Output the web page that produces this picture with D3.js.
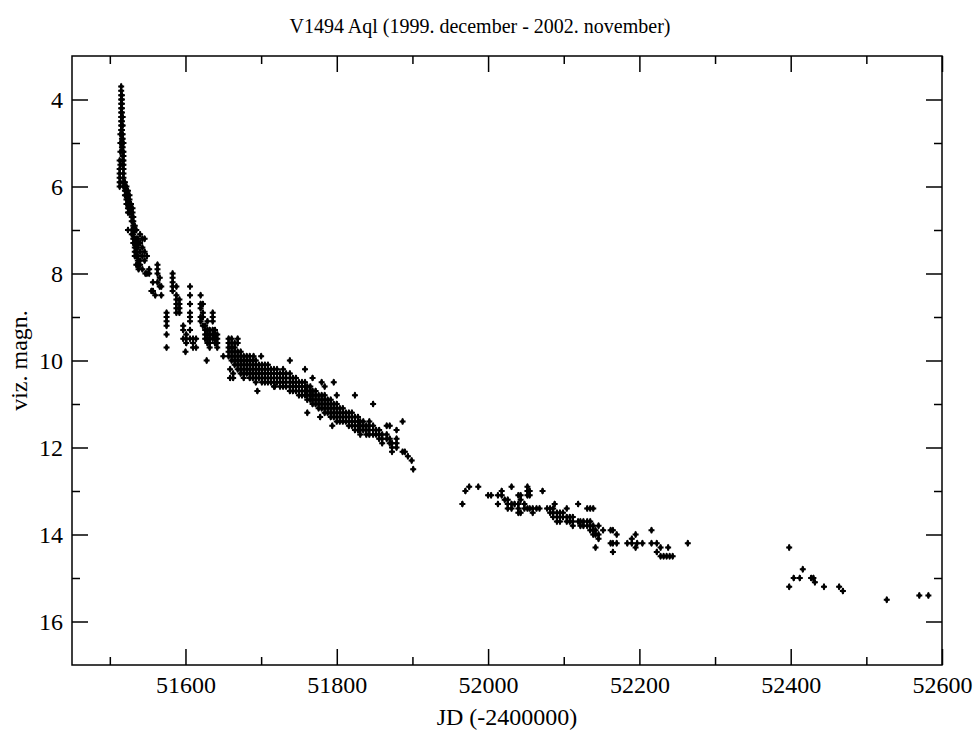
<!DOCTYPE html>
<html>
<head>
<meta charset="utf-8">
<script src="https://cdn.jsdelivr.net/npm/d3@7/dist/d3.min.js"></script>
<style>
  body { margin: 0; background: #fff; }
  text { font-family: "Liberation Serif", "Times New Roman", serif; fill: #000; }
</style>
</head>
<body>
<div id="plot"></div>
<script>
// each entry: [JD - 2400000, [visual magnitudes estimated that night]]
var peakObs = [
  [51513, [5.4, 5.6, 5.7, 5.8, 5.9, 6.0]],
  [51514, [4.8, 5.0, 5.2, 5.5, 5.9]],
  [51515, [3.7, 3.8, 3.9, 4.0, 4.1, 4.2, 4.3, 4.4, 4.5, 4.6, 4.7]],
  [51516, [3.9, 4.0, 4.1, 4.2, 4.3, 4.4, 4.5, 4.6, 4.7, 4.8, 4.9, 5.0, 5.1]],
  [51517, [4.4, 4.6, 4.8, 4.9, 5.0, 5.1, 5.2, 5.3, 5.4, 5.5]],
  [51518, [5.0, 5.2, 5.3, 5.4, 5.5, 5.6, 5.7, 5.8, 5.9, 6.0]],
  [51520, [5.9, 6.0, 6.1, 6.2]],
  [51522, [6.0, 6.1, 6.2, 6.3, 6.4]],
  [51524, [6.1, 6.2, 6.3, 6.4, 6.5, 6.6, 7.0]],
  [51526, [6.2, 6.3, 6.4, 6.5, 6.6]],
  [51528, [6.4, 6.5, 6.6]],
  [51529, [6.7, 6.8, 7.0, 7.1]],
  [51530, [6.5, 6.6]],
  [51531, [6.7, 6.8, 6.9, 7.0, 7.1, 7.2, 7.3]],
  [51533, [6.9, 7.0, 7.2, 7.3, 7.4, 7.5, 7.6]],
  [51535, [7.0, 7.2, 7.3, 7.4, 7.5, 7.6, 7.8]],
  [51537, [7.2, 7.3, 7.4, 7.6, 7.7, 7.8]],
  [51538, [7.9]],
  [51540, [7.1, 7.3, 7.5, 7.7, 7.8]],
  [51543, [7.2, 7.4, 7.6, 7.9]],
  [51546, [7.2, 7.5, 7.7]],
  [51547, [8.0]],
  [51549, [7.6, 8.0]],
  [51552, [7.9, 8.0]]
];

var declineObs = [
  [51555, [8.4]],
  [51557, [8.2, 8.4]],
  [51560, [8.5]],
  [51563, [7.8, 7.9, 8.0, 8.2]],
  [51566, [8.1, 8.3]],
  [51568, [8.3, 8.5]],
  [51575, [8.9, 9.0, 9.1, 9.2, 9.4, 9.7]],
  [51583, [8.0, 8.1, 8.2, 8.3, 8.4]],
  [51588, [8.3, 8.5, 8.6, 8.7, 8.8, 8.9]],
  [51592, [8.6, 8.7, 8.8, 8.9]],
  [51597, [9.2, 9.3, 9.5]],
  [51600, [9.8]],
  [51601, [9.4, 9.5, 9.6]],
  [51606, [8.3, 8.5, 8.7, 8.9, 9.0, 9.1, 9.3, 9.5]],
  [51610, [9.5, 9.6, 9.7]],
  [51614, [9.5, 9.7]],
  [51620, [8.5, 8.7, 8.8, 9.0, 9.1]],
  [51623, [8.7, 8.9, 9.0, 9.2]],
  [51626, [9.2, 9.3, 9.4, 9.5]],
  [51628, [10.0]],
  [51629, [9.1, 9.3, 9.4, 9.5, 9.6]],
  [51632, [9.3, 9.4, 9.5, 9.6, 9.7]],
  [51636, [8.9, 9.0, 9.1, 9.3, 9.4, 9.5]],
  [51639, [9.3, 9.4, 9.5, 9.6]],
  [51642, [9.4, 9.5, 9.6, 9.7]],
  [51650, [9.9]],
  [51657, [9.5, 9.6, 9.7, 9.8, 9.9]],
  [51659, [10.2, 10.4]],
  [51661, [9.5, 9.6, 9.7, 9.8, 9.9, 10.0]],
  [51663, [10.3, 10.4]],
  [51665, [9.6, 9.7, 9.8, 9.9, 10.0, 10.1]],
  [51669, [9.5, 9.6, 9.8, 9.9, 10.0, 10.1, 10.2]],
  [51673, [9.8, 9.9, 10.0, 10.1, 10.2, 10.3]],
  [51677, [9.9, 10.0, 10.1, 10.2, 10.3, 10.4]],
  [51681, [9.9, 10.0, 10.1, 10.2, 10.3]],
  [51685, [9.9, 10.0, 10.1, 10.2, 10.3, 10.4]],
  [51689, [10.0, 10.1, 10.2, 10.3, 10.4]],
  [51690, [9.9]],
  [51693, [10.0, 10.1, 10.2, 10.3, 10.4, 10.5]],
  [51695, [10.7]],
  [51697, [10.1, 10.2, 10.3, 10.4]],
  [51700, [9.9]],
  [51701, [10.1, 10.2, 10.3, 10.4, 10.5]],
  [51705, [10.1, 10.2, 10.3, 10.4, 10.5]],
  [51709, [10.1, 10.2, 10.3, 10.4, 10.5]],
  [51713, [10.2, 10.3, 10.4, 10.5]],
  [51717, [10.2, 10.3, 10.4, 10.5, 10.6]],
  [51718, [10.6]],
  [51721, [10.2, 10.3, 10.4, 10.5]],
  [51725, [10.3, 10.4, 10.5, 10.6]],
  [51729, [10.2, 10.3, 10.4, 10.5, 10.6]],
  [51733, [10.3, 10.4, 10.5, 10.6]],
  [51738, [10.0, 10.3, 10.4, 10.5, 10.6, 10.7]],
  [51742, [10.4, 10.5, 10.6, 10.7]],
  [51746, [10.4, 10.5, 10.6, 10.7]],
  [51750, [10.5, 10.6, 10.7, 10.8]],
  [51754, [10.5, 10.6, 10.7, 10.8]],
  [51758, [10.2, 10.5, 10.6, 10.7, 10.8]],
  [51761, [10.6, 10.7, 10.8, 10.9, 11.2]],
  [51765, [10.6, 10.7, 10.8, 10.9]],
  [51768, [10.4, 10.7, 10.8, 10.9, 11.0]],
  [51772, [10.7, 10.8, 10.9, 11.0]],
  [51776, [10.8, 10.9, 11.0, 11.1]],
  [51778, [11.3]],
  [51780, [10.5, 10.8, 10.9, 11.0, 11.1]],
  [51784, [10.6, 10.8, 10.9, 11.0, 11.1, 11.2]],
  [51788, [10.9, 11.0, 11.1, 11.2]],
  [51792, [10.9, 11.0, 11.1, 11.2, 11.3]],
  [51794, [11.5]],
  [51796, [10.5, 11.0, 11.1, 11.2, 11.3]],
  [51800, [10.8, 11.0, 11.1, 11.2, 11.3, 11.4]],
  [51804, [11.1, 11.2, 11.3, 11.4]],
  [51808, [11.1, 11.2, 11.3, 11.4]],
  [51812, [11.2, 11.3, 11.4]],
  [51816, [11.2, 11.3, 11.4, 11.5]],
  [51820, [11.2, 11.3, 11.4, 11.5]],
  [51824, [10.8, 11.3, 11.4, 11.5, 11.6]],
  [51828, [11.3, 11.4, 11.5, 11.6]],
  [51831, [11.4, 11.5, 11.6, 11.7]],
  [51835, [11.4, 11.5, 11.6]],
  [51839, [11.5, 11.6, 11.7]],
  [51843, [11.4, 11.5, 11.6, 11.7]],
  [51848, [11.0, 11.5, 11.6, 11.7]],
  [51852, [11.6, 11.7]],
  [51856, [11.6, 11.7, 11.8]],
  [51860, [11.7, 11.8, 11.9]],
  [51866, [11.5, 11.7, 11.8]],
  [51870, [11.5, 11.8, 11.9]],
  [51873, [11.9, 12.0, 12.1]],
  [51879, [11.6, 11.8, 11.9, 12.0]],
  [51887, [11.4, 12.1]],
  [51890, [12.1]],
  [51894, [12.2]],
  [51899, [12.3]],
  [51901, [12.5]]
];

var season2Obs = [
  [51966, [13.3]],
  [51970, [13.0]],
  [51975, [12.9]],
  [51987, [12.9]],
  [52000, [13.1]],
  [52004, [13.1]],
  [52013, [13.1, 13.3]],
  [52018, [13.0, 13.1]],
  [52022, [13.2]],
  [52026, [13.2, 13.3, 13.4]],
  [52031, [12.9, 13.3, 13.4]],
  [52035, [13.3]],
  [52040, [13.1, 13.3, 13.4, 13.5]],
  [52043, [13.1, 13.2, 13.5]],
  [52048, [13.3, 13.4]],
  [52052, [12.9, 13.0, 13.1, 13.4]],
  [52055, [13.0, 13.1, 13.4]],
  [52059, [13.4, 13.5]],
  [52064, [13.4]],
  [52068, [13.4]],
  [52072, [13.0]],
  [52078, [13.4]],
  [52082, [13.4, 13.5]],
  [52086, [13.4, 13.5, 13.6]],
  [52088, [13.3]],
  [52091, [13.5, 13.6, 13.7]],
  [52095, [13.5, 13.6, 13.7]],
  [52099, [13.5, 13.6]],
  [52104, [13.4, 13.6, 13.7]],
  [52108, [13.6, 13.7]],
  [52112, [13.6, 13.7, 13.8]],
  [52119, [13.3, 13.7]],
  [52122, [13.7, 13.8]],
  [52126, [13.7, 13.8]],
  [52131, [13.4, 13.7, 13.8]],
  [52135, [13.4, 13.7, 13.8, 13.9]],
  [52139, [13.4, 13.8, 13.9, 14.0]],
  [52142, [13.9, 14.0, 14.3]],
  [52146, [13.8, 14.0, 14.1]],
  [52152, [13.9]],
  [52162, [13.9, 14.2]],
  [52165, [13.9, 14.2, 14.4]],
  [52170, [14.0, 14.2]],
  [52184, [14.2]],
  [52190, [14.1, 14.2]],
  [52195, [14.0, 14.3]],
  [52197, [14.2]],
  [52204, [14.2]],
  [52216, [13.9, 14.2]],
  [52223, [14.2, 14.4]],
  [52228, [14.3, 14.5]],
  [52232, [14.5]],
  [52236, [14.5]],
  [52238, [14.3]],
  [52240, [14.5]],
  [52244, [14.5]],
  [52264, [14.2]]
];

var season3Obs = [
  [52398, [14.3, 15.2]],
  [52404, [15.0]],
  [52412, [15.0]],
  [52416, [14.8]],
  [52427, [15.0]],
  [52430, [15.0]],
  [52432, [15.1]],
  [52444, [15.2]],
  [52464, [15.2]],
  [52469, [15.3]],
  [52527, [15.5]],
  [52570, [15.4]],
  [52582, [15.4]]
];

var xTicks = [51600, 51800, 52000, 52200, 52400, 52600];
var xMinorTicks = [51500, 51700, 51900, 52100, 52300, 52500];
var yTicks = [4, 6, 8, 10, 12, 14, 16];
var yMinorTicks = [5, 7, 9, 11, 13, 15];

var margin = {top: 56, right: 38, bottom: 67, left: 72},
    width = 980 - margin.left - margin.right,
    height = 732 - margin.top - margin.bottom;

var svg = d3.select("#plot")
  .append("svg")
    .attr("width", 980)
    .attr("height", 732)
  .append("g")
    .attr("transform", "translate(" + margin.left + "," + margin.top + ")");

var x = d3.scaleLinear()
  .domain([51450, 52600])
  .range([0, width]);

// magnitudes grow downwards
var y = d3.scaleLinear()
  .domain([3, 17])
  .range([0, height]);

// flatten nightly estimates into points
var points = [];
[peakObs, declineObs, season2Obs, season3Obs].forEach(function(group) {
  group.forEach(function(night) {
    night[1].forEach(function(m) { points.push({jd: night[0], mag: m}); });
  });
});

var majorLen = 16, minorLen = 8;

function styleAxis(g) {
  g.select(".domain").remove();
  g.selectAll("line").attr("stroke", "#000").attr("stroke-width", 1.5);
  g.selectAll("text").style("font-size", "24px").style("font-family", "Liberation Serif, serif");
}

// bottom axis, ticks pointing inward
svg.append("g")
  .attr("transform", "translate(0," + height + ")")
  .call(d3.axisBottom(x).tickValues(xTicks).tickFormat(d3.format("d")).tickSize(-majorLen).tickPadding(11))
  .call(styleAxis);
svg.append("g")
  .attr("transform", "translate(0," + height + ")")
  .call(d3.axisBottom(x).tickValues(xMinorTicks).tickFormat("").tickSize(-minorLen))
  .call(styleAxis);
// top mirror
svg.append("g")
  .call(d3.axisTop(x).tickValues(xTicks).tickFormat("").tickSize(-majorLen))
  .call(styleAxis);
svg.append("g")
  .call(d3.axisTop(x).tickValues(xMinorTicks).tickFormat("").tickSize(-minorLen))
  .call(styleAxis);

// left axis
svg.append("g")
  .call(d3.axisLeft(y).tickValues(yTicks).tickFormat(d3.format("d")).tickSize(-majorLen).tickPadding(9))
  .call(styleAxis);
svg.append("g")
  .call(d3.axisLeft(y).tickValues(yMinorTicks).tickFormat("").tickSize(-minorLen))
  .call(styleAxis);
// right mirror
svg.append("g")
  .attr("transform", "translate(" + width + ",0)")
  .call(d3.axisRight(y).tickValues(yTicks).tickFormat("").tickSize(-majorLen))
  .call(styleAxis);
svg.append("g")
  .attr("transform", "translate(" + width + ",0)")
  .call(d3.axisRight(y).tickValues(yMinorTicks).tickFormat("").tickSize(-minorLen))
  .call(styleAxis);

// frame
svg.append("rect")
  .attr("x", 0).attr("y", 0)
  .attr("width", width).attr("height", height)
  .attr("fill", "none")
  .attr("stroke", "#000")
  .attr("stroke-width", 1.5);

// observations: small filled diamond with a cross through it
var diamond = d3.symbol().type(d3.symbolDiamond).size(16);
var cross = d3.symbol().type(d3.symbolCross).size(20);
var obs = svg.selectAll("g.obs")
  .data(points)
  .enter()
  .append("g")
    .attr("class", "obs")
    .attr("transform", function(d) { return "translate(" + x(d.jd) + "," + y(d.mag) + ")"; });
obs.append("path").attr("d", diamond).attr("fill", "#000");
obs.append("path").attr("d", cross).attr("fill", "#000");

// labels
svg.append("text")
  .attr("x", width / 2)
  .attr("y", height + 60)
  .attr("text-anchor", "middle")
  .style("font-size", "24px")
  .text("JD (-2400000)");

svg.append("text")
  .attr("transform", "rotate(-90)")
  .attr("x", -height / 2)
  .attr("y", -45)
  .attr("text-anchor", "middle")
  .style("font-size", "24px")
  .text("viz. magn.");

svg.append("text")
  .attr("x", 480 - margin.left)
  .attr("y", 33 - margin.top)
  .attr("text-anchor", "middle")
  .style("font-size", "20px")
  .text("V1494 Aql (1999. december - 2002. november)");
</script>
</body>
</html>
